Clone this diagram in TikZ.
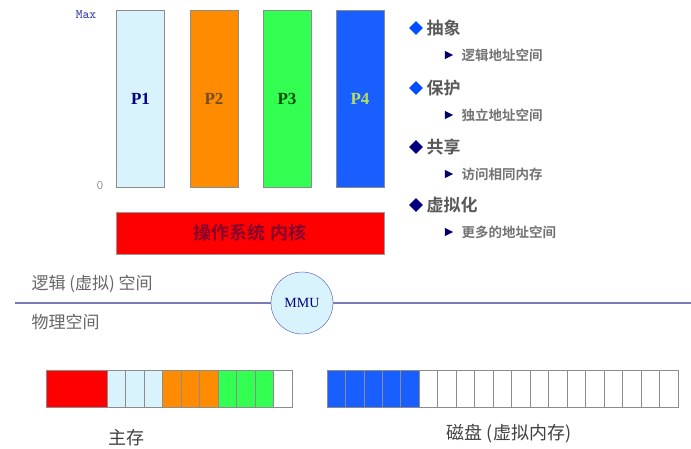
\documentclass[tikz,border=0pt]{standalone}
\usepackage{fontspec}
\setmainfont{Liberation Serif}
\newfontfamily\cjk{Noto Sans CJK SC}
\newfontfamily\cjkb{Noto Sans CJK SC Bold}
\usetikzlibrary{shapes.geometric}
\begin{document}
\begin{tikzpicture}[x=1pt,y=-1pt,
  proc/.style={draw=black!45,line width=1pt,minimum width=48pt,minimum height=177pt,inner sep=0pt,font=\bfseries\fontsize{17}{17}\selectfont},
  cell/.style={draw=black!45,line width=0.8pt},
  head/.style={anchor=west,font=\cjkb\fontsize{17}{17}\selectfont,text=black!65},
  sub/.style={anchor=west,font=\cjkb\fontsize{13.5}{14}\selectfont,text=black!55},
  dia/.style={diamond,inner sep=0pt,minimum width=14pt,minimum height=14pt},
  arr/.style={fill=blue!40!black,draw=none}]
\useasboundingbox (0,0) rectangle (691,448);
% processes
\node[proc,fill=cyan!15,text=blue!50!black] (p1) at (140.5,98.5) {P1};
\node[proc,fill=orange!90!yellow,text=brown!60!black] (p2) at (214,98.5) {P2};
\node[proc,fill=green!85!cyan!80,text=green!30!black] (p3) at (287,98.5) {P3};
\node[proc,fill=blue!70!cyan!90,text=yellow!60!green!70] (p4) at (360,98.5) {P4};
\node[font=\ttfamily\bfseries\fontsize{13}{13}\selectfont,text=blue!40!gray] (max) at (86,15) {Max};
\node[font=\ttfamily\fontsize{13}{13}\selectfont,text=gray] (zero) at (100,186) {0};
\node[draw=black!40,fill=red,minimum width=268pt,minimum height=42pt,inner sep=0pt,font=\cjkb\fontsize{18}{18}\selectfont,text=purple!70!black] (os) at (250,233) {操作系统 内核};
% bullets
\foreach \t/\s/\y/\c in {抽象/逻辑地址空间/28/blue!70!cyan, 保护/独立地址空间/88/blue!70!cyan, 共享/访问相同内存/147/blue!50!black, 虚拟化/更多的地址空间/205/blue!50!black}{
  \node[dia,fill=\c] (d\y) at (416,\y) {};
  \node[head] (h\y) at (423,\y) {\t};
  \node[inner sep=0pt,minimum size=8pt] (a\y) at (449,\y+27) {};
  \fill[arr] (a\y.west) -- (a\y.north west) -- (a\y.east) -- (a\y.south west) -- cycle;
  \node[sub] (s\y) at (458,\y+27) {\s};
}
% separator line and MMU
\node[font=\cjk\itshape\fontsize{17}{17}\selectfont,text=black!60,anchor=west] (lg) at (28,284) {逻辑 (虚拟) 空间};
\node[font=\cjk\itshape\fontsize{17}{17}\selectfont,text=black!60,anchor=west] (ph) at (28,322) {物理空间};
\coordinate (l0) at (15,303);
\coordinate (l1) at (691,303);
\node[circle,draw=blue!40!gray,fill=cyan!15,minimum size=62pt,inner sep=0pt,font=\fontsize{14}{14}\selectfont,text=blue!50!black] (mmu) at (302,303) {MMU};
\draw[blue!30!gray!80,line width=1.5pt] (l0) -- (mmu.west);
\draw[blue!30!gray!80,line width=1.5pt] (mmu.east) -- (l1);
% main memory
\fill[red] (46,370) rectangle (107,407);
\foreach \i in {0,...,9}{
  \pgfmathsetmacro\xa{107+18.5*\i}
  \pgfmathsetmacro\xb{107+18.5*(\i+1)}
  \ifnum\i<3 \def\cc{cyan!15}\else\ifnum\i<6 \def\cc{orange!90!yellow}\else\ifnum\i<9 \def\cc{green!85!cyan!80}\else\def\cc{white}\fi\fi\fi
  \draw[cell,fill=\cc] (\xa,370) rectangle (\xb,407);
}
\draw[cell] (46,370) rectangle (292,407);
% disk
\foreach \i in {0,...,18}{
  \pgfmathsetmacro\xa{327+18.47*\i}
  \pgfmathsetmacro\xb{327+18.47*(\i+1)}
  \ifnum\i<5 \def\cc{blue!70!cyan!90}\else\def\cc{white}\fi
  \draw[cell,fill=\cc] (\xa,370) rectangle (\xb,407);
}
\node[font=\cjk\fontsize{18}{18}\selectfont,text=black!75] (zc) at (126,438) {主存};
\node[font=\cjk\fontsize{18}{18}\selectfont,text=black!75] (cp) at (509,434) {磁盘 (虚拟内存)};
\end{tikzpicture}
\end{document}
